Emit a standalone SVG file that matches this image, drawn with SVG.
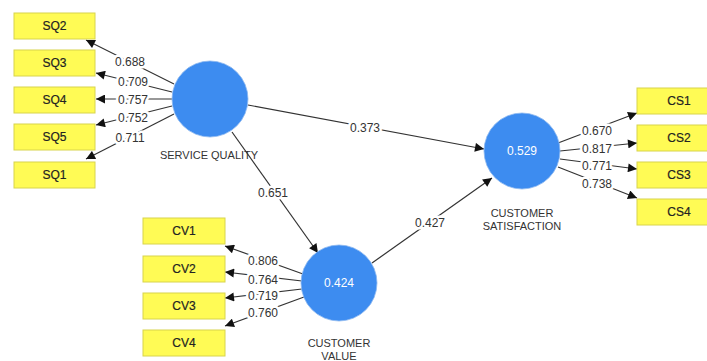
<svg xmlns="http://www.w3.org/2000/svg" width="707" height="361" viewBox="0 0 707 361">
  <style>
    .ind rect { fill: #fffb55; stroke: #d8d44c; stroke-width: 1; }
    .ind text { font-family: "Liberation Sans", Arial, sans-serif; font-size: 12px; fill: #222; text-anchor: middle; stroke: #222; stroke-width: 0.2; }
    .lat circle { fill: #3d8cf0; stroke: #8bb8f0; stroke-width: 0.8; }
    .lat .val { font-family: "Liberation Sans", Arial, sans-serif; font-size: 12px; fill: #ffffff; text-anchor: middle; }
    .lat .name { font-family: "Liberation Sans", Arial, sans-serif; font-size: 11px; fill: #333; text-anchor: middle; }
    .edges line { stroke: #333; stroke-width: 1.2; marker-end: url(#arrow); }
    .w { font-family: "Liberation Sans", Arial, sans-serif; font-size: 12px; fill: #333; text-anchor: middle; stroke: #ffffff; stroke-width: 5; paint-order: stroke; stroke-linejoin: round; }
  </style>
  <defs>
    <marker id="arrow" viewBox="0 0 10 10" refX="10" refY="5" markerWidth="10" markerHeight="9" markerUnits="userSpaceOnUse" orient="auto">
      <path d="M0,0 L10,5 L0,10 z" fill="#111"/>
    </marker>
  </defs>
  <rect width="707" height="361" fill="#ffffff"/>

  <!-- connectors -->
  <g id="connectors" class="edges">
    <!-- service quality loadings -->
    <line x1="174" y1="84" x2="86" y2="40"/>
    <line x1="172" y1="92" x2="96" y2="73"/>
    <line x1="172" y1="99" x2="96" y2="99"/>
    <line x1="172" y1="106" x2="96" y2="125"/>
    <line x1="174" y1="114" x2="86" y2="159"/>
    <!-- customer value loadings -->
    <line x1="303" y1="274" x2="225" y2="246"/>
    <line x1="302" y1="281" x2="225" y2="272"/>
    <line x1="302" y1="289" x2="225" y2="298"/>
    <line x1="304" y1="297" x2="225" y2="326"/>
    <!-- customer satisfaction loadings -->
    <line x1="558" y1="143" x2="637" y2="113"/>
    <line x1="560" y1="151" x2="637" y2="143"/>
    <line x1="560" y1="159" x2="637" y2="169"/>
    <line x1="558" y1="167" x2="637" y2="198"/>
    <!-- structural paths -->
    <line x1="248" y1="105" x2="484" y2="149"/>
    <line x1="232" y1="132" x2="318" y2="253"/>
    <line x1="372" y1="263" x2="492" y2="178"/>
  </g>

  <!-- path coefficients -->
  <g id="weights">
    <text class="w" x="130" y="66">0.688</text>
    <text class="w" x="133" y="86">0.709</text>
    <text class="w" x="133" y="104">0.757</text>
    <text class="w" x="133" y="122">0.752</text>
    <text class="w" x="130" y="142">0.711</text>
    <text class="w" x="263" y="265">0.806</text>
    <text class="w" x="263" y="284">0.764</text>
    <text class="w" x="263" y="300">0.719</text>
    <text class="w" x="263" y="317">0.760</text>
    <text class="w" x="597" y="135">0.670</text>
    <text class="w" x="597" y="153">0.817</text>
    <text class="w" x="597" y="170">0.771</text>
    <text class="w" x="597" y="188">0.738</text>
    <text class="w" x="365" y="132">0.373</text>
    <text class="w" x="273" y="197">0.651</text>
    <text class="w" x="430" y="227">0.427</text>
  </g>

  <!-- latent variables -->
  <g id="service-quality" class="lat">
    <circle cx="210" cy="99" r="38"/>
    <text class="name" x="209" y="159">SERVICE QUALITY</text>
  </g>
  <g id="customer-value" class="lat">
    <circle cx="339" cy="283" r="38"/>
    <text class="val" x="339" y="287">0.424</text>
    <text class="name" x="339" y="347">CUSTOMER</text>
    <text class="name" x="339" y="359.5">VALUE</text>
  </g>
  <g id="customer-satisfaction" class="lat">
    <circle cx="522" cy="151" r="38"/>
    <text class="val" x="522" y="155">0.529</text>
    <text class="name" x="522" y="217">CUSTOMER</text>
    <text class="name" x="522" y="230">SATISFACTION</text>
  </g>

  <!-- indicators -->
  <g id="SQ2" class="ind"><rect x="14" y="13" width="81" height="26"/><text x="54.5" y="30">SQ2</text></g>
  <g id="SQ3" class="ind"><rect x="14" y="50" width="81" height="26"/><text x="54.5" y="67">SQ3</text></g>
  <g id="SQ4" class="ind"><rect x="14" y="87" width="81" height="26"/><text x="54.5" y="104">SQ4</text></g>
  <g id="SQ5" class="ind"><rect x="14" y="124" width="81" height="26"/><text x="54.5" y="141">SQ5</text></g>
  <g id="SQ1" class="ind"><rect x="14" y="162" width="81" height="26"/><text x="54.5" y="179">SQ1</text></g>

  <g id="CV1" class="ind"><rect x="143" y="218" width="82" height="26"/><text x="184" y="235">CV1</text></g>
  <g id="CV2" class="ind"><rect x="143" y="256" width="82" height="26"/><text x="184" y="273">CV2</text></g>
  <g id="CV3" class="ind"><rect x="143" y="293" width="82" height="26"/><text x="184" y="310">CV3</text></g>
  <g id="CV4" class="ind"><rect x="143" y="330" width="82" height="26"/><text x="184" y="347">CV4</text></g>

  <g id="CS1" class="ind"><rect x="637" y="88" width="84" height="26"/><text x="679" y="105">CS1</text></g>
  <g id="CS2" class="ind"><rect x="637" y="125" width="84" height="26"/><text x="679" y="142">CS2</text></g>
  <g id="CS3" class="ind"><rect x="637" y="162" width="84" height="26"/><text x="679" y="179">CS3</text></g>
  <g id="CS4" class="ind"><rect x="637" y="199" width="84" height="26"/><text x="679" y="216">CS4</text></g>
</svg>
